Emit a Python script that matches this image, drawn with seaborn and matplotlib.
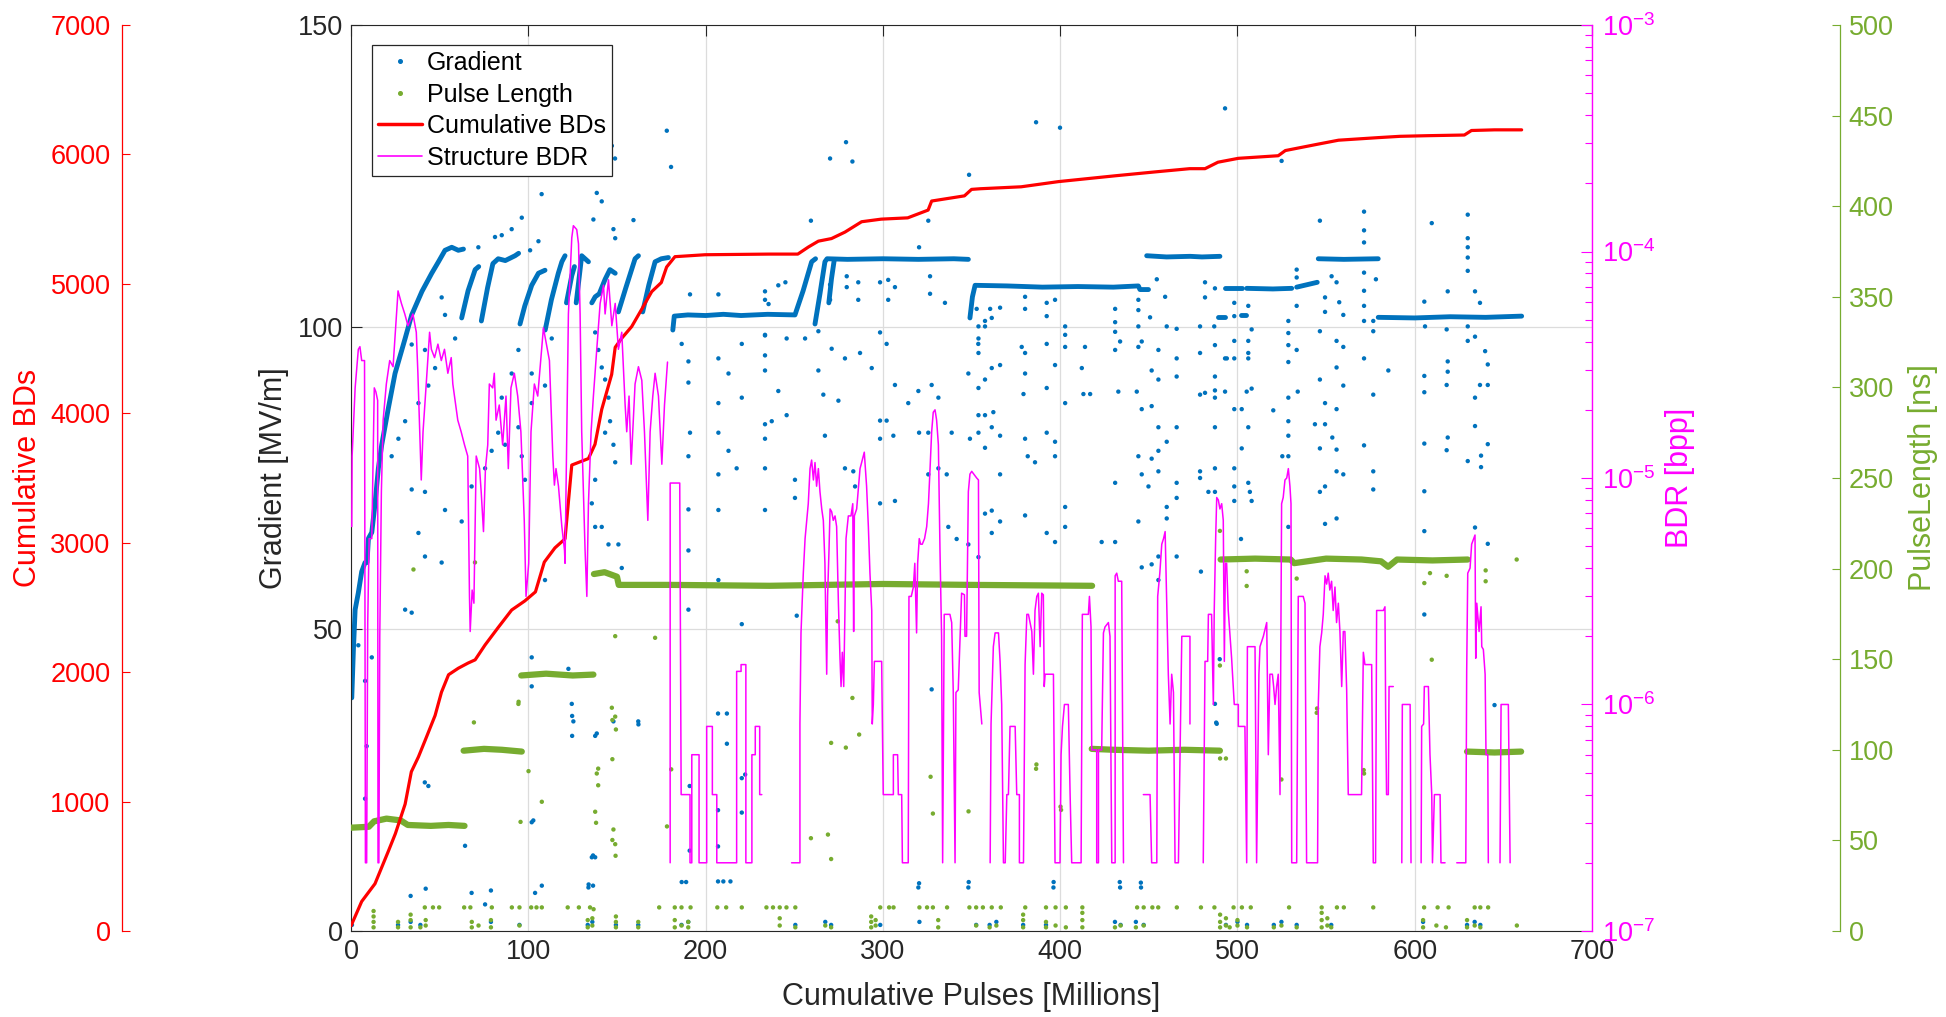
import numpy as np
import pandas as pd
import matplotlib
matplotlib.use("Agg")
import matplotlib.pyplot as plt
import seaborn as sns
from matplotlib.lines import Line2D
from matplotlib.ticker import LogLocator, NullFormatter

sns.set_theme(style="white")
plt.rcParams['font.family'] = ['Liberation Sans', 'DejaVu Sans']
plt.rcParams['mathtext.fontset'] = 'custom'
plt.rcParams['mathtext.rm'] = 'Liberation Sans'
plt.rcParams['mathtext.it'] = 'Liberation Sans:italic'
plt.rcParams['mathtext.bf'] = 'Liberation Sans:bold'

BLUE = '#0072BD'
GREEN = '#77AC30'
RED = '#FF0000'
MAG = '#FF00FF'
DARK = '#262626'
nan = np.nan

# ---- cumulative breakdowns (red, left outer axis)
cum_x = [0, 6, 13.5, 21, 25, 30.5, 34, 38, 42, 47.4, 51, 55, 60.5, 66, 70, 75.6, 83, 90.6, 98, 104,
         109, 115, 120.7, 124.5, 133.9, 137.6, 141.4, 147, 149, 152.7, 158.3, 164, 169.6, 175, 178,
         182.7, 199.7, 236, 252, 258, 263.6, 271, 278.6, 288, 299, 314, 325.5, 327.5, 346, 350, 355,
         378, 399, 431, 453.5, 473, 481.7, 489, 500.5, 523, 527, 545.6, 557, 579.5, 591.7, 607.7,
         628, 632, 645, 660.3]
cum_bd = [40, 228, 365, 615, 752, 980, 1230, 1345, 1480, 1665, 1845, 1980, 2030, 2070, 2095, 2210,
          2345, 2480, 2550, 2620, 2850, 2960, 3030, 3600, 3650, 3760, 4030, 4300, 4510, 4580, 4670,
          4805, 4940, 5010, 5130, 5210, 5225, 5230, 5230, 5285, 5330, 5350, 5400, 5480, 5500, 5510,
          5570, 5640, 5680, 5730, 5735, 5750, 5790, 5835, 5865, 5890, 5890, 5940, 5970, 5990, 6030,
          6080, 6110, 6130, 6140, 6145, 6150, 6185, 6190, 6190]

# ---- structure BDR (magenta, log axis); nan = no breakdowns (gap)
bdr_x = [0.4, 0.6, 2.3, 4.1, 5.0, 6.0, 7.6, 8.1, 8.8, 9.4, 10.2, 11.7, 13.1, 14.0, 15.0, 15.2, 15.7,
         16.2, 17.1, 18.1, 19.9, 21.8, 23.7, 26.5, 28.4, 30.3, 32.1, 34.9, 36.8, 37.7, 39.6, 40.6,
         42.4, 44.3, 45.3, 47.1, 49.0, 50.9, 52.7, 54.6, 56.5, 57.4, 60.2, 62.1, 64.0, 65.8, 66.8,
         67.2, 68.3, 69.3, 70.6, 72.5, 73.4, 74.7, 75.8, 77.1, 78.0, 79.9, 80.8, 81.8, 83.6, 85.5,
         87.4, 88.7, 90.2, 92.1, 94.0, 95.8, 97.7, 98.7, 100.2, 101.5, 103.4, 105.3, 108.5, 111.9,
         113.8, 114.7, 115.6, 117.0, 118.9, 120.4, 120.7, 121.7, 122.6, 124.5, 125.4, 127.3, 128.3,
         129.2, 130.1, 132.0, 133.0, 133.9, 135.4, 136.7, 138.6, 140.5, 142.4, 143.3, 145.2, 147.1,
         149.0, 150.8, 152.7, 154.6, 155.5, 156.8, 158.0, 160.2, 162.1, 164.0, 165.5, 167.4, 168.7,
         170.2, 171.5, 173.4, 175.3, 176.8, 178.5, nan,
         180.0, 180.0, 185.4, 186.2, 191.2, 191.2, 192.2, 192.2, 196.3, 196.3, 200.6, 200.6, 203.8,
         203.8, 206.3, 206.3, 217.5, 217.5, 220.0, 220.0, 222.7, 222.7, 226.1, 226.1, 228.0, 228.0,
         230.5, 230.5, 231.7, nan,
         248.5, 253.2, 253.2, 253.8, 255.1, 256.1, 257.9, 258.9, 259.8, 260.8, 261.7, 262.6, 263.6,
         264.5, 265.5, 266.4, 267.3, 267.7, 268.3, 268.8, 269.6, 270.2, 271.1, 272.0, 273.0, 273.9,
         274.9, 275.8, 276.4, 277.1, 277.9, 278.6, 279.2, 280.5, 282.0, 283.0, 283.5, 283.9, 285.2,
         287.1, 288.0, 289.5, 290.8, 291.8, 292.7, 293.7, 294.0, 294.6, 295.2, 299.3, 299.7, 300.2,
         305.9, 305.9, 308.3, 308.7, 310.6, 311.0, 314.3, 314.7, 316.0, 317.2, 318.0, 319.0, 319.6,
         320.5, 321.3, 322.2, 323.5, 324.7, 325.7, 326.6, 327.5, 328.4, 329.4, 330.3, 331.3, 331.7,
         332.2, 333.1, 333.7, 334.6, 337.8, 338.8, 339.7, 340.7, 341.2, 342.5, 344.4, 346.0, 346.3,
         347.2, 348.2, 349.1, 350.1, 352.9, 353.9, 354.3, 355.8, nan,
         360.5, 361.0, 362.3, 363.3, 365.2, 366.1, 367.0, 368.0, 369.0, 369.9, 370.8, 371.7, 374.6,
         375.5, 377.0, 377.0, 379.3, 380.2, 381.2, 382.1, 384.0, 384.9, 385.8, 386.8, 387.7, 388.7,
         389.6, 390.5, 391.0, 391.5, 396.2, 397.1, 399.9, 400.5, 401.3, 402.4, 404.6, 405.6, 406.5,
         411.8, 412.5, 415.9, 416.5, 417.4, 417.8, 420.6, 420.6, 421.6, 421.6, 423.4, 424.4, 425.3,
         427.2, 428.1, 429.1, 431.0, 431.0, 431.9, 432.8, 434.7, 435.7, nan,
         446.9, 450.7, 451.6, 454.5, 455.0, 456.2, 457.3, 458.3, 459.2, 460.1, 461.0, 462.0, 462.9,
         463.9, 464.8, 466.7, 468.6, 473.2, 473.2, nan,
         480.7, 481.7, 483.2, 483.6, 485.4, 486.4, 486.9, 487.7, 488.3, 489.2, 490.1, 491.1, 492.0,
         492.6, 493.2, 493.9, 494.8, 496.7, 498.2, 500.5, 500.5, 504.2, 505.2, 505.6, 509.9, 510.8,
         512.1, 512.7, 514.6, 516.5, 517.4, 518.3, 519.7, 520.4, 521.2, 522.1, 523.0, 524.0, 524.9,
         525.8, 526.8, 527.8, 528.7, 529.6, 530.2, 530.6, 533.4, 534.3, 537.1, 538.1, 539.0, 545.2,
         545.6, 546.5, 547.5, 548.4, 549.4, 550.3, 551.2, 552.1, 553.1, 554.0, 555.0, 555.9, 556.9,
         557.8, 558.8, 559.7, 560.6, 561.6, 562.5, 570.0, 571.0, 571.9, 574.7, 575.7, 576.6, 577.9,
         578.5, 582.3, 583.2, 583.6, 584.1, 585.1, 585.5, 587.9, nan,
         592.7, 593.0, 597.4, 597.9, nan,
         603.6, 603.9, 605.0, 605.4, 607.7, 608.6, 609.6, 610.0, 611.1, 614.3, 614.8, 617.1, nan,
         623.7, 628.8, 629.3, 629.9, 631.2, 632.1, 634.0, 634.4, 635.0, 636.3, 637.4, 637.8, 638.7,
         639.7, 640.2, 641.2, 641.5, nan,
         648.1, 648.7, 652.8, 653.8]
bdr_v = [6.1e-6, 1.25e-5, 2.5e-5, 3.7e-5, 3.8e-5, 3.3e-5, 3.3e-5, 2e-7, 2e-7, 2.3e-6, 5.4e-6, 5.4e-6,
         2.5e-5, 2.4e-5, 2.2e-5, 2e-7, 2e-7, 2e-6, 8.7e-6, 1.8e-5, 2.6e-5, 3.3e-5, 3.1e-5, 6.7e-5,
         5.9e-5, 5.3e-5, 4.7e-5, 5.3e-5, 4.4e-5, 2.9e-5, 9.8e-6, 1.6e-5, 2.6e-5, 4.4e-5, 3.7e-5,
         3.4e-5, 3.9e-5, 3.3e-5, 3.7e-5, 2.9e-5, 3.4e-5, 2.6e-5, 1.8e-5, 1.6e-5, 1.4e-5, 1.25e-5,
         3e-6, 2.1e-6, 3.2e-6, 2.8e-6, 1.25e-5, 1.1e-5, 8.7e-6, 5.8e-6, 1.1e-5, 1.4e-5, 2.6e-5,
         2.5e-5, 2.9e-5, 1.8e-5, 2.1e-5, 1.4e-5, 2.3e-5, 1.1e-5, 2.5e-5, 2.9e-5, 2.3e-5, 1.6e-5,
         6.5e-6, 3.0e-6, 4.2e-6, 1.6e-5, 2.6e-5, 2.3e-5, 4.6e-5, 3.3e-5, 1.25e-5, 9.3e-6, 1.1e-5,
         9.2e-6, 6.1e-6, 4.8e-6, 4.2e-6, 1.6e-5, 5.3e-5, 1.15e-4, 1.3e-4, 1.25e-4, 1.08e-4, 5.3e-5,
         1.6e-5, 4.8e-6, 3e-6, 7.7e-6, 1.6e-5, 2.3e-5, 3.7e-5, 5.9e-5, 7.1e-5, 5.3e-5, 7.5e-5,
         4.7e-5, 5.9e-5, 3.7e-5, 4.4e-5, 2.1e-5, 1.6e-5, 2.3e-5, 1.15e-5, 2.6e-5, 3.1e-5, 2.7e-5,
         1.6e-5, 6.5e-6, 1.6e-5, 2.3e-5, 2.9e-5, 2.3e-5, 1.15e-5, 2.1e-5, 3.25e-5, nan,
         2e-7, 9.5e-6, 9.5e-6, 4e-7, 4e-7, 2e-7, 2e-7, 6e-7, 6e-7, 2e-7, 2e-7, 8e-7, 8e-7, 4e-7, 4e-7,
         2e-7, 2e-7, 1.4e-6, 1.4e-6, 1.5e-6, 1.5e-6, 2e-7, 2e-7, 6e-7, 6e-7, 8e-7, 8e-7, 4e-7, 4e-7,
         nan,
         2e-7, 2e-7, 8.2e-7, 2.07e-6, 3.8e-6, 5.4e-6, 7.7e-6, 1.1e-5, 1.2e-5, 9.8e-6, 1.17e-5, 9.2e-6,
         1.1e-5, 8.7e-6, 7.3e-6, 6.5e-6, 4.2e-6, 2.6e-6, 1.36e-6, 3e-6, 4.8e-6, 7.3e-6, 7.1e-6,
         6.5e-6, 6.8e-6, 6.1e-6, 2.8e-6, 1.6e-6, 1.2e-6, 1.7e-6, 1.2e-6, 2.6e-6, 5.4e-6, 6.8e-6,
         6.8e-6, 7.7e-6, 2.1e-6, 6.8e-6, 7.3e-6, 1.1e-5, 1.17e-5, 1.3e-5, 9.2e-6, 6.1e-6, 3.8e-6,
         2.6e-6, 8.2e-7, 1.0e-6, 1.55e-6, 1.55e-6, 8.2e-7, 4e-7, 4e-7, 6e-7, 6e-7, 4e-7, 4e-7, 2e-7,
         2e-7, 3e-6, 3e-6, 3.3e-6, 4.2e-6, 2.07e-6, 4.2e-6, 5.4e-6, 5.1e-6, 5.1e-6, 5.4e-6, 6.1e-6,
         7.7e-6, 1.1e-5, 1.6e-5, 1.95e-5, 2e-5, 1.8e-5, 1.4e-5, 8.7e-6, 4.8e-6, 2e-6, 2e-7, 2.5e-6,
         2.5e-6, 2.3e-6, 1.13e-6, 2e-7, 1.13e-6, 1.16e-6, 3.1e-6, 3.05e-6, 2e-6, 2e-6, 8.7e-6,
         1.04e-5, 1.07e-5, 1.0e-5, 9.8e-6, 1.13e-6, 8.2e-7, nan,
         2e-7, 8.2e-7, 1.8e-6, 2.07e-6, 2.07e-6, 1.55e-6, 1.0e-6, 2e-7, 2e-7, 4e-7, 4e-7, 8e-7, 8e-7,
         4e-7, 4e-7, 2e-7, 2e-7, 1.5e-6, 2.5e-6, 2.5e-6, 2.1e-6, 1.36e-6, 2.6e-6, 3e-6, 3.1e-6,
         1.8e-6, 3.1e-6, 3.05e-6, 1.2e-6, 1.36e-6, 1.36e-6, 2e-7, 2e-7, 6e-7, 8e-7, 1.0e-6, 1.0e-6,
         4e-7, 2e-7, 2e-7, 2.5e-6, 2.5e-6, 3e-6, 2.2e-6, 6.3e-7, 6.3e-7, 2e-7, 2e-7, 6.3e-7, 6.3e-7,
         2.07e-6, 2.2e-6, 2.3e-6, 2e-6, 2e-7, 2e-7, 3.7e-6, 3.8e-6, 3.5e-6, 3.5e-6, 2e-7, nan,
         4e-7, 4e-7, 2e-7, 2e-7, 3e-6, 3.8e-6, 5.1e-6, 5.4e-6, 5.8e-6, 2.8e-6, 1.36e-6, 8.2e-7,
         1.36e-6, 1.13e-6, 2e-7, 2e-7, 2e-6, 2e-6, 8.2e-7, nan,
         2e-7, 1.55e-6, 1.55e-6, 2.5e-6, 2.5e-6, 1.0e-6, 2.6e-6, 5.4e-6, 8.2e-6, 8.0e-6, 7.3e-6,
         7.7e-6, 6.5e-6, 1.55e-6, 4.2e-6, 4.2e-6, 2.6e-6, 1.6e-6, 1.0e-6, 1.0e-6, 8e-7, 8e-7, 2e-7,
         1.8e-6, 1.8e-6, 2e-7, 1.36e-6, 1.8e-6, 2e-6, 2.3e-6, 6e-7, 1.36e-6, 1.36e-6, 1.2e-6, 1.0e-6,
         1.2e-6, 1.36e-6, 4e-7, 7.7e-6, 8.2e-6, 9.8e-6, 1.0e-5, 1.1e-5, 9.2e-6, 7.7e-6, 2e-7, 2e-7,
         3e-6, 3e-6, 2.8e-6, 2e-7, 2e-7, 1.0e-6, 1.8e-6, 2.07e-6, 2.5e-6, 3.7e-6, 3.4e-6, 3.8e-6,
         3.2e-6, 3.5e-6, 2.6e-6, 3.3e-6, 2.3e-6, 2.8e-6, 2.1e-6, 1.2e-6, 2.1e-6, 2.1e-6, 1.16e-6,
         4e-7, 4e-7, 1.7e-6, 1.5e-6, 1.5e-6, 1.5e-6, 2e-7, 2e-7, 2.6e-6, 2.6e-6, 2.7e-6, 9e-7, 4e-7,
         4e-7, 1.2e-6, 1.2e-6, nan,
         2e-7, 1.0e-6, 1.0e-6, 2e-7, nan,
         2e-7, 8e-7, 8.2e-7, 1.2e-6, 1.2e-6, 6e-7, 4e-7, 2e-7, 4e-7, 4e-7, 2e-7, 2e-7, nan,
         2e-7, 2e-7, 1.4e-6, 3.8e-6, 4.0e-6, 5.1e-6, 5.6e-6, 1.6e-6, 2.8e-6, 2.1e-6, 2.7e-6, 1.8e-6,
         1.75e-6, 1.36e-6, 6e-7, 6e-7, 2e-7, nan,
         2e-7, 1.0e-6, 1.0e-6, 2e-7]

# ---- gradient: dense conditioning trace (nan separates runs)
grad_line_x = [0.4, 1.3, 2.3, 4.1, 6.0, 7.9, 9.0, 9.8, 11.7, 13.5, 15.4, 17.3, 21.0, 24.8, 30.5, 34.2,
               40.0, 45.5, 49.3, 53.0, 56.8, 60.5, 63.4, nan,
               62.4, 66, 70, 72, nan,
               73.5, 77, 80, 83, 87, 92.5, 94.5, nan,
               95.3, 98, 101.9, 105.7, 109.4, nan,
               109.5, 113, 116.9, 118.9, 120.7, nan,
               121.5, 124.5, 126, nan,
               127, 130.1, 133.9, nan,
               135.8, 137.7, 140, 143.3, 146, 149, nan,
               150.8, 155, 160.2, 162.1, nan,
               164.5, 168, 171.5, 175, 179, nan,
               181.5, 182.3, 190, 200, 210, 220, 235, 250.4, 255, 259.8, 262, nan,
               261.7, 264.5, 267.3, 268.5, 280, 300, 320, 340, 348.2, nan,
               269.5, 271, 272.5, nan,
               349.1, 350.5, 352, 370, 390, 410, 430, 444.1, 445, 449.8, nan,
               448.8, 460, 473.3, 480, 490.1, nan,
               489, 493, nan,
               493, 502.4, nan,
               502, 505, nan,
               505.2, 520, 530.6, nan,
               533.4, 545, nan,
               545.6, 560, 579.4, nan,
               579.4, 600, 620, 640, 660.3]
grad_line_y = [38.6, 46.4, 53.2, 56, 59.5, 61, 61, 65, 66, 70.7, 76.6, 80.5, 86.5, 92.3, 98.1, 102,
               105.9, 108.9, 110.8, 112.7, 113.2, 112.7, 112.9, nan,
               101.5, 106, 109.5, 110, nan,
               101, 106.5, 110.5, 111.3, 111.0, 111.8, 112.2, nan,
               100.5, 103.5, 106.9, 108.9, 109.4, nan,
               99.5, 104.5, 108.9, 110.8, 111.8, nan,
               104, 108.5, 110, nan,
               104, 111.8, 110.8, nan,
               104, 105, 105.5, 107.9, 109.5, 108.9, nan,
               102.5, 106.5, 111.3, 111.8, nan,
               102.5, 107, 110.8, 111.3, 111.5, nan,
               99.5, 101.8, 102, 101.9, 102.1, 101.9, 102.1, 102, 106, 110.8, 111.3, nan,
               100.5, 105.5, 110.8, 111.3, 111.2, 111.3, 111.2, 111.3, 111.2, nan,
               104, 108, 111, nan,
               101.5, 105, 106.9, 106.8, 106.6, 106.7, 106.6, 106.8, 106.2, 106.2, nan,
               111.8, 111.6, 111.7, 111.6, 111.7, nan,
               101.6, 101.6, nan,
               106.4, 106.4, nan,
               102, 102, nan,
               106.4, 106.3, 106.4, nan,
               106.6, 107.4, nan,
               111.3, 111.2, 111.3, nan,
               101.6, 101.5, 101.7, 101.6, 101.8]

# ---- gradient: isolated points (x [M pulses], gradient [MV/m])
grad_pts = [
    (107.5, 122), (96.3, 118.1), (90.6, 116.2), (85, 115.2), (81.2, 114.9), (71.8, 113.2), (105.7, 114.2),
    (34.2, 97.1), (41.7, 96.2), (51.1, 104.9), (53, 102), (58.7, 98.1), (47.4, 93.2), (43.6, 90.3),
    (38, 87.4), (30.5, 84.4), (26.7, 81.5), (22.9, 78.6), (34.2, 73.1), (41.7, 72.7), (53, 69.7),
    (62.4, 67.8), (38, 65.9), (41.7, 62.0), (51.1, 61.0), (30.5, 53.2), (34.2, 52.7), (43.6, 24),
    (11.7, 45.3), (7.9, 41.4), (8.8, 30.6), (7.9, 21.9), (68, 73.6), (75.6, 76.6), (79.3, 79.5),
    (83, 82.5), (85, 88.3), (86.9, 80.5), (94.4, 83.4), (96.3, 78.6), (98.1, 74.7), (90.6, 92.3),
    (94.4, 96.2), (101.9, 92.3), (101.9, 87.4), (109.4, 90.3), (113.2, 98.1), (109.4, 58.1),
    (101.9, 45.3), (101.9, 40.5), (101.9, 18.0), (103.8, 6.3), (64.3, 14.1), (0.4, 47.3), (4.1, 47.3),
    (68, 6.3), (75.6, 4.4), (41.6, 24.6), (33.6, 5.8), (42.1, 7), (78.9, 6.7), (124.7, 35.6),
    (124.7, 32.3), (138.6, 32.7), (162, 34.7), (136.5, 12.5), (134, 7.7), (136.5, 7.5),
    (102.8, 18.3), (107.6, 7.5), (207, 36), (212, 36), (212, 31), (207, 20), (207, 14), (220.4, 25.3),
    (220.4, 19.6), (191, 24), (191, 13.3), (186.5, 8.1), (189, 8.1), (207, 8.2), (210, 8.2), (214, 8.2),
    (320.4, 7.9), (348.4, 8.1), (396.3, 8.1), (433.6, 8.1), (445.5, 8), (488, 34.5), (490, 45),
    (178.1, 132.5), (180.5, 126.5), (147.1, 130.0), (148.9, 127.9), (138.6, 125.3), (141.4, 120.8),
    (138.6, 122.2), (136.7, 117.8), (159.3, 117.7), (148, 116.2), (149, 114.7), (101, 112.7),
    (137.7, 99.1), (139.5, 96.2), (141.4, 93.3), (143.3, 91.3), (145.2, 88.3), (146.1, 84.4),
    (143.3, 82.5), (148, 80.5), (149, 77.6), (137.7, 74.7), (135.8, 70.8), (137.7, 66.9), (141.4, 66.9),
    (145.2, 64), (150.8, 64), (152.7, 60.1), (122.6, 43.4), (124.5, 37.6), (125.4, 34.7), (148, 34.7),
    (162.1, 34.2), (137.7, 32.3), (135.8, 12.2), (137.7, 12.2), (133.9, 7.2), (186.5, 97.2),
    (190.3, 94.3), (190.3, 90.8), (191.2, 82.5), (190.3, 78.6), (190.3, 69.8), (190.3, 63), (190.3, 53.2),
    (207.2, 94.8), (207.2, 87.4), (207.2, 82.5), (207.2, 75.6), (207.2, 69.7), (207.2, 58.1),
    (212.9, 79.5), (212.9, 92.3), (220.4, 97.2), (220.4, 88.3), (220.4, 50.8), (222.3, 25.9),
    (233.5, 98.6), (233.5, 95.3), (233.5, 92.8), (233.5, 83.9), (233.5, 81.5), (233.5, 76.6),
    (233.5, 69.7), (217.5, 76.6), (191.2, 105.4), (207.2, 105.4), (233.5, 105.9),
    (270.2, 127.9), (279.2, 130.6), (282.8, 127.4), (259.4, 117.6), (348.6, 125.2), (325.6, 117.6),
    (320.4, 113.2), (233.5, 104.5), (235.5, 103.8), (241, 106.9), (245, 107.4), (270.2, 107),
    (270.2, 104.5), (279.6, 108.4), (279.6, 106.6), (286.1, 107.4), (286.1, 104.5), (298.4, 107.4),
    (303, 107.8), (303, 104.5), (306.8, 106.6), (326.6, 108.4), (326.6, 105.5), (335, 104),
    (233.5, 98.7), (245.7, 98.1), (256.1, 98.1), (263.6, 99.3), (271.1, 96.4), (278.6, 94.8),
    (287.1, 95.7), (293.7, 93.2), (298.4, 99.1), (302.1, 97.2), (306.8, 90.4), (320, 89.4),
    (327.5, 90.4), (331.3, 88.3), (325.6, 82.5), (325.6, 75.6), (331.3, 76.6), (336, 75.6),
    (338.8, 82.5), (348.2, 92.3), (349.1, 81.5), (353.8, 97.2), (241, 89.4), (237.3, 84.4),
    (245.7, 85.4), (250.4, 74.7), (250.4, 71.7), (263.6, 92.8), (266.4, 88.8), (274.9, 87.8),
    (267.3, 82), (278.6, 76.6), (283.3, 76.1), (284.3, 73.6), (298.4, 84.5), (298.4, 81.5),
    (298.4, 70.8), (302.1, 84.5), (305.9, 82), (306.8, 71.2), (314.3, 87.4), (320.4, 82.5),
    (336.9, 66.9), (341.6, 64.9), (348.2, 64.0), (251.4, 52.2), (327.5, 40), (320, 7.2), (348.2, 7.2),
    (386.4, 133.9), (399.9, 133.0), (352.9, 103), (360.5, 103), (361.4, 101.5), (366.1, 103.2),
    (380.2, 105), (380.2, 103), (392.4, 104), (392.4, 101.8), (397.1, 104.5), (431, 103), (431, 100.8),
    (444.1, 104.5), (444.1, 102.8), (450.7, 101.6), (454.5, 107.9), (459.2, 105), (353.9, 100.1),
    (357.6, 101), (357.6, 100.1), (353.9, 98.1), (353.9, 95.7), (357.6, 91.3), (361.4, 93.2),
    (366.1, 93.7), (353.9, 89.9), (353.9, 85.4), (357.6, 85.4), (362.3, 85.9), (353.9, 82.5),
    (357.6, 80), (366.1, 82), (361.4, 83.4), (366.1, 75.6), (357.6, 69.1), (361.4, 69.6), (366.1, 67.8),
    (361.4, 65.9), (353.9, 61.9), (378.3, 96.7), (380.2, 95.7), (380.2, 92.3), (379.3, 88.9),
    (380.2, 81.5), (381.7, 78.6), (385.8, 77.6), (380.2, 68.8), (392.4, 97.2), (392.4, 89.9),
    (392.4, 82.5), (392.4, 65.9), (397.1, 93.7), (397.1, 81), (397.1, 78.6), (397.1, 64.4),
    (402.8, 100.1), (402.8, 98.7), (402.8, 96.7), (402.8, 87.4), (402.8, 70.2), (402.8, 66.9),
    (412.2, 93.2), (413.1, 88.9), (416.9, 88.9), (414, 96.7), (423.4, 64.4), (431, 99.2), (431, 96.2),
    (431, 74.2), (431, 64.4), (432.8, 89.3), (433.8, 97.6), (444.1, 100.1), (444.1, 96.7), (446, 97.6),
    (443.2, 89.3), (446, 86.4), (444.1, 78.6), (446, 75.6), (444.1, 67.8), (446, 60.2), (449.8, 73.6),
    (451.6, 92.8), (451.6, 86.9), (451.6, 78.2), (451.6, 60.7), (455.4, 96.2), (455.4, 91.3),
    (455.4, 83.4), (455.4, 79.5), (455.4, 76.1), (455.4, 62), (455.4, 58.1), (460.1, 100.1),
    (460.1, 81), (460.1, 70.2), (460.1, 68.3), (465.7, 99.7), (465.7, 94.8), (465.7, 91.8),
    (465.7, 83.4), (465.7, 74.2), (465.7, 71.7), (465.7, 62), (396.2, 7.2), (433.8, 7.2), (445.6, 7.2),
    (493, 136.2), (546.5, 117.6), (571.4, 119.1), (571.4, 116), (571.4, 114), (524.9, 127.5),
    (478.9, 100.1), (478.9, 95.7), (481.7, 107.4), (481.7, 104.9), (487.3, 106.4), (486.9, 100.1),
    (487.3, 97), (487.3, 91.8), (487.3, 89.5), (487.3, 88.3), (487.3, 83.4), (487.3, 76.6),
    (487.3, 72.7), (478.9, 88.8), (481.7, 89.1), (478.9, 76.1), (478.9, 75), (483.6, 72.7), (493, 94.8),
    (494, 94.8), (493, 89.3), (498.2, 104), (498.2, 101.8), (498.2, 97.7), (498.2, 94.8), (498.2, 86.4),
    (498.2, 76.6), (498.2, 73.6), (498.2, 71.2), (502.4, 86.4), (502.4, 79.9), (502, 64.9),
    (506.1, 103.5), (506.1, 97.7), (506.1, 95.7), (506.1, 94.8), (505.2, 89.3), (506.1, 83.4),
    (506.1, 74.2), (507, 72.7), (508, 99.6), (508, 89.8), (508, 71.2), (520.2, 86.2), (525.3, 78.6),
    (528.7, 101), (528.7, 99), (528.7, 97), (528.7, 94.2), (528.7, 88.3), (528.7, 84.4), (528.7, 82),
    (528.7, 78.6), (528.7, 66.9), (533.4, 109.5), (533.4, 108.2), (533.4, 103.5), (533.4, 96.2),
    (534, 89.3), (543.7, 83.9), (546.5, 99.3), (546.5, 91.3), (549.4, 104.9), (549.4, 102.5),
    (549.4, 87.4), (549.4, 83.9), (546.5, 79.9), (546.5, 72.7), (549.4, 73.6), (549.4, 67.4),
    (553.1, 108.4), (555.9, 107.4), (555.9, 97.7), (555.9, 93.3), (555.9, 86.4), (555.9, 79.7),
    (555.9, 76.1), (555.9, 68.3), (553.5, 81.7), (559.7, 102), (559.7, 96.7), (559.7, 90.3),
    (559.7, 75.6), (557.4, 104.1), (571.4, 109), (571.4, 106), (571.4, 103.5), (571.4, 101),
    (571.4, 94.8), (571.4, 80.4), (576.6, 101), (576.6, 99.3), (576.6, 88.8), (576.6, 76.1),
    (576.6, 73.1), (585.1, 92.8), (578.1, 107.9), (479.4, 59.5), (487.3, 37.6), (488.3, 34.3),
    (609.6, 117.2), (629.9, 118.6), (629.9, 114.7), (629.9, 113.2), (629.9, 111.5), (629.9, 109.3),
    (618.6, 105.9), (634, 105.9), (605.4, 104.2), (636.8, 104), (605.8, 100.1), (618, 99.6),
    (629.9, 100.1), (629.9, 97.7), (634, 98.4), (639.7, 96), (641.2, 93.8), (618.6, 94.3),
    (618.6, 92.6), (618, 90.4), (636.8, 90.4), (641.2, 90.4), (605.4, 91.9), (605.4, 89.2),
    (634, 88.3), (634, 83.6), (605.4, 80.7), (618.6, 81.7), (618, 79.6), (641.2, 80.6), (637.4, 78.7),
    (629.9, 77.8), (637.4, 76.8), (605.4, 72.8), (605.4, 66.2), (634, 66.8), (641.2, 64.1),
    (605.4, 52.4), (645, 37.4),
    (0.5, 1), (26.5, 1), (33.6, 1.5), (39.1, 1), (78.9, 1.5), (95, 1), (133.5, 1), (136.1, 1.5),
    (149.4, 1), (162, 1), (186.4, 1), (190.2, 1.5), (250.6, 1), (267.5, 1.5), (270.8, 1), (298.5, 1),
    (320.6, 1.5), (352.6, 1), (360.2, 1), (364, 1.5), (379.1, 1), (392, 1), (430.9, 1.5), (434.1, 1),
    (442.7, 1.5), (447.1, 1), (493.5, 1), (500, 1.5), (505.4, 1), (520.5, 1), (524.8, 1.5),
    (533.4, 1), (552.9, 1), (604.7, 1.5), (629.5, 1), (633.8, 1.5), (637, 1)]

# ---- pulse length: dense bands (nan separates runs)
pl_line_x = [0, 10, 13, 20, 28, 32, 45, 55, 64, nan,
             63.5, 75, 85, 96.3, nan,
             96, 110, 125, 136.7, nan,
             137, 143, 150, 151, 180, 236, 300, 350, 418, nan,
             417.8, 430, 450, 470, 490.1, nan,
             490.5, 510, 530, 532, 550, 570, 581, 585, 590, 610, 629.9, nan,
             629.5, 645, 660]
pl_line_y = [57, 57.5, 60.5, 62, 61, 58.5, 58, 58.5, 58, nan,
             99.5, 100.5, 100, 99, nan,
             141, 142, 141, 141.5, nan,
             197, 198, 195.5, 191, 191, 190.5, 191.5, 191, 190.5, nan,
             100.5, 100, 99.5, 100, 99.5, nan,
             205, 205.5, 205, 203, 205.5, 205, 204, 201, 205, 204.5, 205, nan,
             99, 98.5, 99]

# ---- pulse length: isolated points (x [M pulses], pulse length [ns])
pl_pts = [
    (69.3, 115.1), (94.5, 126.5), (100.1, 88.2), (107.6, 71.3), (95.6, 60.2), (147.4, 116.4),
    (149.4, 111.2), (147.4, 94.8), (139.4, 89.6), (139.4, 80.4), (138.2, 59.7), (147.4, 50.2),
    (149.2, 41.5), (178.2, 57.7), (180.6, 89.2), (270.8, 103.8), (279.1, 101.2), (286.6, 108.4),
    (259.4, 51.2), (269, 53.2), (270.8, 39.7), (326.9, 85.1), (328.2, 64.8), (348.3, 66),
    (282.8, 128.6), (274.5, 170.9), (386.6, 91.9), (400.2, 68.6), (490.2, 95.2), (493.5, 95.2),
    (544.9, 122.8), (571.2, 88.8), (524.8, 83.6), (69.9, 203.4), (35.2, 199.5), (94.4, 125.3),
    (149, 162.7), (171.5, 161.8), (147.1, 123.2), (149, 118.3), (138.6, 86.9), (137.7, 65.8),
    (148, 56), (149, 47.9), (505.2, 198.5), (505.2, 190.4), (533.4, 194.5), (544.7, 120.4),
    (571.4, 86.9), (490.1, 146.5), (490.1, 220.8), (605.4, 192), (609.6, 149.7), (608.6, 197.5),
    (618, 196), (640, 199), (640, 193), (657.5, 205), (386.4, 89.5), (400.5, 66.8),
    # row just above the axis
    (41.6, 13), (46.2, 13), (49.7, 13), (63.8, 13), (67.3, 13), (79.4, 13), (90.7, 13), (95.0, 13),
    (101.6, 13), (104.6, 13), (107.6, 13), (122.2, 13), (128.5, 13), (134.8, 13), (136.8, 12),
    (173.8, 13), (182.6, 13), (186.4, 13), (191.5, 13), (206.6, 13), (211.6, 13), (220.4, 13),
    (234.3, 13), (238.0, 13), (241.8, 13), (245.6, 13), (250.6, 13), (298.5, 13), (303.5, 13),
    (306.0, 13), (320.6, 13), (324.9, 13), (328.2, 13), (336.2, 13), (348.8, 13), (352.6, 13),
    (356.4, 13), (361.4, 13), (366.5, 13), (380.3, 13), (392.0, 13), (397.4, 13), (403.2, 13),
    (412.5, 13), (443.4, 13), (447.1, 13), (452.0, 13), (455.3, 13), (465.8, 13), (479.4, 13),
    (487.0, 13), (497.8, 13), (502.5, 13), (507.5, 13), (529.1, 13), (547.5, 13), (556.1, 13),
    (560.0, 13), (576.6, 13), (605.3, 13), (612.9, 13), (619.1, 13), (633.8, 13), (637.0, 13),
    (641.4, 13),
    # stacks at the axis
    (12.7, 2), (12.7, 5), (12.7, 8), (12.7, 11), (26.5, 2), (26.5, 5), (33.6, 2), (33.6, 6),
    (33.6, 9), (39.1, 2), (42.1, 3), (42.1, 6), (68.1, 2), (68.1, 5), (71.9, 3), (78.9, 2),
    (78.9, 6), (95.0, 3), (133.5, 2), (133.5, 6), (136.1, 3), (136.1, 7), (149.4, 2), (149.4, 5),
    (149.4, 8), (162.0, 2), (162.0, 5), (182.6, 2), (182.6, 6), (186.4, 3), (190.2, 2), (190.2, 5),
    (241.8, 3), (241.8, 7), (250.6, 2), (267.5, 3), (270.8, 2), (293.4, 2), (293.4, 5), (293.4, 8),
    (295.9, 3), (295.9, 6), (331.2, 2), (331.2, 6), (352.6, 3), (360.2, 2), (364.0, 3), (379.1, 2),
    (379.1, 6), (379.1, 9), (392.0, 2), (392.0, 5), (397.4, 3), (403.2, 2), (412.5, 2), (412.5, 6),
    (412.5, 10), (430.9, 2), (434.1, 3), (442.7, 2), (447.1, 3), (490.2, 2), (490.2, 5), (490.2, 9),
    (493.5, 3), (493.5, 7), (495.6, 2), (500.0, 3), (500.0, 6), (505.4, 2), (520.5, 2), (524.8, 3),
    (533.4, 2), (547.5, 2), (547.5, 6), (547.5, 10), (550.7, 3), (550.7, 7), (552.9, 2), (604.7, 2),
    (604.7, 6), (612.2, 3), (617.6, 2), (629.5, 2), (629.5, 6), (633.8, 3), (637.0, 2), (657.6, 3)]


def runs(xs, ys):
    df = pd.DataFrame({'x': xs, 'y': ys})
    df['seg'] = df['y'].isna().cumsum()
    return df.dropna()


fig = plt.figure(figsize=(19.46, 10.17), dpi=100)
ax = fig.add_axes([0.1804, 0.0846, 0.6377, 0.8908])
ax_pl = ax.twinx()
ax_bd = ax.twinx()
ax_bdr = ax.twinx()
ax_bdr.set_yscale('log')

# gradient
sns.lineplot(data=runs(grad_line_x, grad_line_y), x='x', y='y', units='seg', estimator=None,
             sort=False, color=BLUE, linewidth=3.5, ax=ax, legend=False)
gx, gy = zip(*grad_pts)
sns.scatterplot(x=list(gx), y=list(gy), color=BLUE, s=10, edgecolor='none', ax=ax, legend=False)

# pulse length
sns.lineplot(data=runs(pl_line_x, pl_line_y), x='x', y='y', units='seg', estimator=None,
             sort=False, color=GREEN, linewidth=4.5, ax=ax_pl, legend=False)
px, py = zip(*pl_pts)
sns.scatterplot(x=list(px), y=list(py), color=GREEN, s=10, edgecolor='none', ax=ax_pl, legend=False)

# cumulative BDs
sns.lineplot(x=cum_x, y=cum_bd, sort=False, estimator=None, color=RED, linewidth=2.3,
             ax=ax_bd, legend=False)

# BDR
sns.lineplot(data=runs(bdr_x, bdr_v), x='x', y='y', units='seg', estimator=None, sort=False,
             color=MAG, linewidth=1.1, ax=ax_bdr, legend=False)

TICK = 19.5
LAB = 22

# ---- main axes
ax.set_xlim(0, 700)
ax.set_ylim(0, 150)
ax.set_xticks(range(0, 701, 100))
ax.set_yticks([0, 50, 100, 150])
ax.grid(True, color='#dcdcdc', linewidth=0.9)
ax.tick_params(axis='both', direction='in', length=8, width=0.8, colors=DARK, labelsize=TICK,
               top=True, right=False, pad=6)
for s in ['left', 'bottom', 'top']:
    ax.spines[s].set_color(DARK)
    ax.spines[s].set_linewidth(0.8)
ax.spines['right'].set_visible(False)
ax.set_xlabel('Cumulative Pulses [Millions]', fontsize=LAB, color=DARK)
ax.set_ylabel('Gradient [MV/m]', fontsize=LAB, color=DARK)
ax.xaxis.set_label_coords(0.5, -0.073)
ax.xaxis.label.set_va('center')
ax.yaxis.set_label_coords(-0.062, 0.5)
ax.yaxis.label.set_va('center')

# ---- pulse length axis (green, far right)
ax_pl.set_ylim(0, 500)
ax_pl.set_yticks(range(0, 501, 50))
for s in ['left', 'top', 'bottom']:
    ax_pl.spines[s].set_visible(False)
ax_pl.spines['right'].set_position(('axes', 1.2))
ax_pl.spines['right'].set_color(GREEN)
ax_pl.spines['right'].set_linewidth(0.9)
ax_pl.tick_params(axis='y', direction='in', length=6, width=0.8, colors=GREEN, labelsize=TICK, pad=6)
ax_pl.set_ylabel('PulseLength [ns]', fontsize=LAB, color=GREEN)
ax_pl.yaxis.set_label_position('right')
ax_pl.yaxis.set_label_coords(1.267, 0.5)
ax_pl.yaxis.label.set_va('center')

# ---- cumulative BD axis (red, far left)
ax_bd.set_ylim(0, 7000)
ax_bd.set_yticks(range(0, 7001, 1000))
for s in ['right', 'top', 'bottom']:
    ax_bd.spines[s].set_visible(False)
ax_bd.spines['left'].set_visible(True)
ax_bd.spines['left'].set_position(('axes', -0.1848))
ax_bd.spines['left'].set_color(RED)
ax_bd.spines['left'].set_linewidth(0.9)
ax_bd.yaxis.set_ticks_position('left')
ax_bd.yaxis.set_label_position('left')
ax_bd.tick_params(axis='y', direction='in', length=6, width=0.8, colors=RED, labelsize=TICK, pad=8)
ax_bd.set_ylabel('Cumulative BDs', fontsize=LAB, color=RED)
ax_bd.yaxis.set_label_coords(-0.26, 0.5)
ax_bd.yaxis.label.set_va('center')

# ---- BDR axis (magenta, log, right edge)
ax_bdr.set_ylim(1e-7, 1e-3)
ax_bdr.yaxis.set_major_locator(LogLocator(base=10, numticks=10))
ax_bdr.yaxis.set_minor_locator(LogLocator(base=10, subs=np.arange(2, 10), numticks=20))
ax_bdr.yaxis.set_minor_formatter(NullFormatter())
for s in ['left', 'top', 'bottom']:
    ax_bdr.spines[s].set_visible(False)
ax_bdr.spines['right'].set_color(MAG)
ax_bdr.spines['right'].set_linewidth(1.0)
ax_bdr.tick_params(axis='y', which='major', direction='in', length=8, width=0.8, colors=MAG,
                   labelsize=TICK, pad=7)
ax_bdr.tick_params(axis='y', which='minor', direction='in', length=5, width=0.8, colors=MAG)
ax_bdr.set_ylabel('BDR [bpp]', fontsize=LAB, color=MAG)
ax_bdr.yaxis.set_label_position('right')
ax_bdr.yaxis.set_label_coords(1.071, 0.5)
ax_bdr.yaxis.label.set_va('center')

for a in (ax_pl, ax_bd, ax_bdr):
    a.set_xlim(0, 700)
    a.set_xlabel('')
    a.patch.set_visible(False)

handles = [
    Line2D([], [], marker='o', markersize=2.6, color=BLUE, linestyle='none'),
    Line2D([], [], marker='o', markersize=2.6, color=GREEN, linestyle='none'),
    Line2D([], [], color=RED, linewidth=2.5),
    Line2D([], [], color=MAG, linewidth=1.2),
]
labels = ['Gradient', 'Pulse Length', 'Cumulative BDs', 'Structure BDR']
leg = ax_bdr.legend(handles, labels, loc='upper left', bbox_to_anchor=(0.0167, 0.978),
                    borderaxespad=0, fontsize=18, frameon=True, fancybox=False, framealpha=1,
                    edgecolor=DARK, handlelength=1.75, handletextpad=0.2, labelspacing=0.3,
                    borderpad=0.25)
leg.get_frame().set_linewidth(0.9)
for t in leg.get_texts():
    t.set_color('black')

fig.savefig('out.png', dpi=100)
